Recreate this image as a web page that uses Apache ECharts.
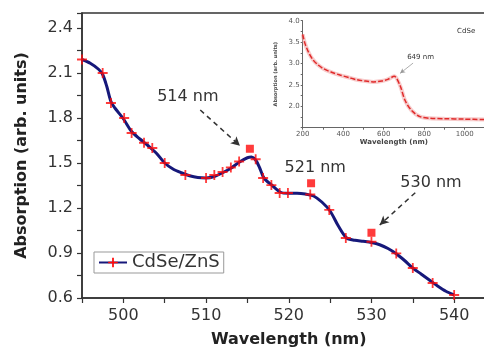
<!DOCTYPE html>
<html>
<head>
<meta charset="utf-8">
<script src="https://cdn.jsdelivr.net/npm/echarts@6/dist/echarts.min.js"></script>
<style>
  html, body { margin: 0; padding: 0; background: #fff; }
  #chart { width: 484px; height: 347px; }
</style>
</head>
<body>
<div id="chart"></div>
<script>
// CdSe/ZnS absorption: curve
var curveWl = [495, 496, 497, 497.5, 498, 498.5, 499, 500, 501, 502, 503, 504, 505, 506, 507, 508, 509, 510,
  511, 512, 513, 514, 515, 515.5, 516, 516.5, 517, 518, 519, 520, 521, 522, 523, 524, 525, 526, 527,
  528, 529, 530, 531, 532, 533, 534, 535, 536, 537, 538, 539, 540];
var curveAbs = [2.19, 2.165, 2.125, 2.09, 2.01, 1.91, 1.865, 1.795, 1.71, 1.66, 1.615, 1.565, 1.50, 1.46, 1.435, 1.415, 1.403, 1.40,
  1.41, 1.435, 1.465, 1.505, 1.535, 1.54, 1.52, 1.465, 1.40, 1.35, 1.305, 1.298, 1.298, 1.293, 1.28, 1.24, 1.18, 1.08, 1.00,
  0.985, 0.978, 0.97, 0.955, 0.93, 0.895, 0.85, 0.80, 0.76, 0.72, 0.68, 0.645, 0.62];

// CdSe/ZnS absorption: "+" data markers
var markWl = [495.0, 497.5, 498.5, 500.1, 501.0, 502.5, 503.5, 505.0, 507.5, 510.0, 511.0, 512.0,
  513.0, 514.0, 516.0, 516.9, 517.9, 518.9, 519.9, 522.6, 524.9, 526.9, 530.0, 533.0, 535.0, 537.4, 540.0];
var markAbs = [2.19, 2.10, 1.90, 1.80, 1.70, 1.635, 1.60, 1.50, 1.42, 1.40, 1.42, 1.44,
  1.47, 1.51, 1.525, 1.40, 1.353, 1.30, 1.30, 1.29, 1.187, 1.00, 0.975, 0.897, 0.80, 0.70, 0.62];

// excitonic peaks (red squares)
var peakWl = [515.3, 522.7, 530.0];
var peakAbs = [1.595, 1.365, 1.035];
var peakNames = ["514 nm", "521 nm", "530 nm"];

// CdSe absorption (inset)
var insetWl = [200, 211, 230, 252, 275, 302, 340, 384, 430, 467, 510, 549, 590, 620, 652,
  681, 705, 738, 779, 829, 900, 1000, 1100];
var insetAbs = [3.68, 3.47, 3.25, 3.08, 2.97, 2.88, 2.80, 2.73, 2.67, 2.62, 2.59, 2.57, 2.59, 2.63, 2.70,
  2.48, 2.14, 1.90, 1.76, 1.72, 1.71, 1.70, 1.69];

var xTicksMain = [500, 510, 520, 530, 540];
var yTicksMain = [0.6, 0.9, 1.2, 1.5, 1.8, 2.1, 2.4];
var xTicksInset = [200, 400, 600, 800, 1000];
var yTicksInset = [2.0, 2.5, 3.0, 3.5, 4.0];

function zip(a, b) {
  return a.map(function (v, i) { return [v, b[i]]; });
}
function near(list, v) {
  return list.some(function (t) { return Math.abs(t - v) < 1e-6; });
}

var FONT = "DejaVu Sans";
var RED = "#ff0a0a";
var plus = "path://M4.1,0H5.9V4.1H10V5.9H5.9V10H4.1V5.9H0V4.1H4.1Z";

function textMark(coord, text, size) {
  return {
    coord: coord, value: text,
    label: { show: true, position: "inside", formatter: text, color: "#333", fontSize: size, fontFamily: FONT }
  };
}

var chart = echarts.init(document.getElementById("chart"));

var option = {
  animation: false,
  backgroundColor: "#fff",
  legend: {
    data: ["CdSe/ZnS"],
    left: 94, top: 252,
    padding: [0, 4],
    itemWidth: 28, itemHeight: 12, itemGap: 4,
    borderColor: "#999", borderWidth: 1,
    textStyle: { fontSize: 18, lineHeight: 21, fontFamily: FONT, color: "#333" }
  },
  grid: [
    { left: 82, top: 13, width: 413.5, height: 285, show: true, borderColor: "#333", borderWidth: 1.5, outerBoundsMode: "none" },
    { left: 302.7, top: 20.7, width: 182.3, height: 107, outerBoundsMode: "none" }
  ],
  xAxis: [
    {
      type: "value", gridIndex: 0, min: 495, max: 545, interval: 5,
      name: "Wavelength (nm)", nameLocation: "middle", nameGap: 34,
      nameTextStyle: { fontSize: 16, fontWeight: "bold", fontFamily: FONT, color: "#222" },
      axisLine: { lineStyle: { color: "#333", width: 1.5 } },
      axisTick: { length: 5, lineStyle: { color: "#333", width: 1.2 } },
      axisLabel: {
        fontSize: 16, fontFamily: FONT, color: "#333", margin: 10,
        formatter: function (v) { return near(xTicksMain, v) ? String(v) : ""; }
      },
      splitLine: { show: false }
    },
    {
      type: "value", gridIndex: 1, min: 200, max: 1100, interval: 100,
      name: "Wavelength (nm)", nameLocation: "middle", nameGap: 11,
      nameTextStyle: { fontSize: 7, fontWeight: "bold", fontFamily: FONT, color: "#444" },
      axisLine: { lineStyle: { color: "#666", width: 1 } },
      axisTick: { length: 2, lineStyle: { color: "#666" } },
      axisLabel: {
        fontSize: 7, fontFamily: FONT, color: "#555", margin: 3,
        formatter: function (v) { return near(xTicksInset, v) ? String(v) : ""; }
      },
      splitLine: { show: false }
    }
  ],
  yAxis: [
    {
      type: "value", gridIndex: 0, min: 0.6, max: 2.5, interval: 0.15,
      name: "Absorption (arb. units)", nameLocation: "middle", nameGap: 52,
      nameTextStyle: { fontSize: 16, fontWeight: "bold", fontFamily: FONT, color: "#222" },
      axisLine: { show: true, lineStyle: { color: "#333", width: 1.5 } },
      axisTick: { show: true, length: 5, lineStyle: { color: "#333", width: 1.2 } },
      axisLabel: {
        fontSize: 16, fontFamily: FONT, color: "#333", margin: 9,
        formatter: function (v) { return near(yTicksMain, v) ? v.toFixed(1) : ""; }
      },
      splitLine: { show: false }
    },
    {
      type: "value", gridIndex: 1, min: 1.5, max: 4.0, interval: 0.25,
      name: "Absorption (arb. units)", nameLocation: "middle", nameGap: 24,
      nameTextStyle: { fontSize: 5, fontWeight: "bold", fontFamily: FONT, color: "#444" },
      axisLine: { show: true, lineStyle: { color: "#666", width: 1 } },
      axisTick: { show: true, length: 2, lineStyle: { color: "#666" } },
      axisLabel: {
        fontSize: 7, fontFamily: FONT, color: "#555", margin: 3,
        formatter: function (v) { return near(yTicksInset, v) ? v.toFixed(1) : ""; }
      },
      splitLine: { show: false }
    }
  ],
  series: [
    {
      name: "CdSe/ZnS",
      type: "line",
      xAxisIndex: 0, yAxisIndex: 0,
      data: zip(curveWl, curveAbs),
      smooth: 0.3,
      symbol: plus, symbolSize: 10, showSymbol: false,
      lineStyle: { color: "#16187a", width: 3 },
      itemStyle: { color: RED },
      z: 3
    },
    {
      name: "markers",
      type: "scatter",
      xAxisIndex: 0, yAxisIndex: 0,
      data: zip(markWl, markAbs),
      symbol: plus, symbolSize: 10,
      itemStyle: { color: RED },
      z: 4
    },
    {
      name: "peaks",
      type: "scatter",
      xAxisIndex: 0, yAxisIndex: 0,
      data: zip(peakWl, peakAbs),
      symbol: "rect", symbolSize: 8,
      itemStyle: { color: RED },
      z: 4,
      markPoint: {
        symbol: "circle", symbolSize: 1,
        itemStyle: { color: "transparent" },
        data: [
          textMark([507.8, 1.94], peakNames[0], 16),
          textMark([523.2, 1.467], peakNames[1], 16),
          textMark([537.2, 1.365], peakNames[2], 16)
        ]
      },
      markLine: {
        silent: true,
        symbol: ["none", "arrow"], symbolSize: [7, 9],
        label: { show: false },
        lineStyle: { color: "#333", type: [5, 4], width: 1.5 },
        data: [
          [{ coord: [509.3, 1.853] }, { coord: [514.1, 1.615] }],
          [{ coord: [535.3, 1.302] }, { coord: [531.0, 1.087] }]
        ]
      }
    },
    {
      name: "inset-glow",
      type: "line",
      xAxisIndex: 1, yAxisIndex: 1,
      data: zip(insetWl, insetAbs),
      smooth: 0.3, symbol: "none",
      lineStyle: { color: "rgba(240,160,160,0.55)", width: 4 },
      z: 2
    },
    {
      name: "CdSe",
      type: "line",
      xAxisIndex: 1, yAxisIndex: 1,
      data: zip(insetWl, insetAbs),
      smooth: 0.3, symbol: "none",
      lineStyle: { color: "#e02a2a", width: 1.5, type: [5, 2] },
      z: 3,
      markPoint: {
        symbol: "circle", symbolSize: 1,
        itemStyle: { color: "transparent" },
        data: [
          textMark([782, 3.15], "649 nm", 7),
          textMark([1007, 3.76], "CdSe", 7)
        ]
      },
      markLine: {
        silent: true,
        symbol: ["none", "arrow"], symbolSize: [4, 5],
        label: { show: false },
        lineStyle: { color: "#999", type: "solid", width: 0.8 },
        data: [
          [{ coord: [745, 3.01] }, { coord: [681, 2.77] }]
        ]
      }
    }
  ]
};

chart.setOption(option);
</script>
</body>
</html>
